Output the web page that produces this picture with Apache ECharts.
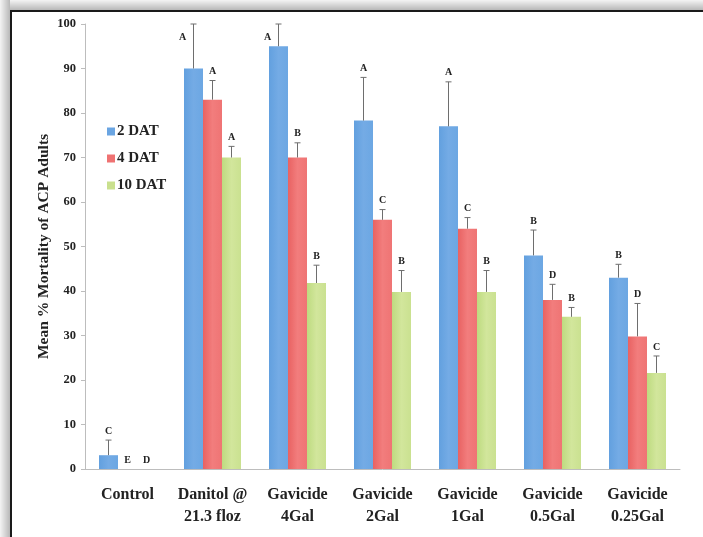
<!DOCTYPE html>
<html>
<head>
<meta charset="utf-8">
<script src="https://cdn.jsdelivr.net/npm/echarts@6/dist/echarts.min.js"></script>
<style>html,body{margin:0;padding:0;background:#fff;}#c{width:703px;height:537px;}</style>
</head>
<body>
<div id="c"></div>
<script>
var categories = ['Control', 'Danitol @\n21.3 floz', 'Gavicide\n4Gal', 'Gavicide\n2Gal', 'Gavicide\n1Gal', 'Gavicide\n0.5Gal', 'Gavicide\n0.25Gal'];
var seriesNames = ['2 DAT', '4 DAT', '10 DAT'];
var dat2 = [3.1, 90, 95, 78.3, 77, 48, 43];
var dat4 = [0, 83, 70, 56, 54, 38, 29.8];
var dat10 = [0, 70, 41.8, 39.8, 39.8, 34.2, 21.6];
var err2 = [6.5, 100, 100, 88, 87, 53.7, 46];
var err4 = [0, 87.3, 73.3, 58.3, 56.5, 41.5, 37.2];
var err10 = [0, 72.5, 45.8, 44.6, 44.6, 36.3, 25.4];
var letters2 = ['C', 'A', 'A', 'A', 'A', 'B', 'B'];
var letters4 = ['E', 'A', 'B', 'C', 'C', 'D', 'D'];
var letters10 = ['D', 'A', 'B', 'B', 'B', 'B', 'C'];
var yTicks = [0, 10, 20, 30, 40, 50, 60, 70, 80, 90, 100];

var colors = [
  new echarts.graphic.LinearGradient(0, 0, 1, 0, [{offset: 0, color: '#62a0df'}, {offset: 0.5, color: '#74abe5'}, {offset: 1, color: '#6ca7e3'}]),
  new echarts.graphic.LinearGradient(0, 0, 1, 0, [{offset: 0, color: '#e86262'}, {offset: 0.5, color: '#f27d7d'}, {offset: 1, color: '#ef7474'}]),
  new echarts.graphic.LinearGradient(0, 0, 1, 0, [{offset: 0, color: '#bedb80'}, {offset: 0.5, color: '#d2e69c'}, {offset: 1, color: '#cae190'}])
];
var legendColors = ['#6aa5e2', '#ef7272', '#c9e08e'];
var vals = [dat2, dat4, dat10];
var errs = [err2, err4, err10];
var lets = [letters2, letters4, letters10];
var BAR_W = 19;
var FONT = '"Liberation Serif", "DejaVu Serif", serif';

function errSeries(k) {
  var data = categories.map(function (c, i) { return [i, vals[k][i], errs[k][i], lets[k][i]]; });
  return {
    type: 'custom',
    name: 'err' + k,
    z: 5,
    silent: true,
    renderItem: function (params, api) {
      var i = api.value(0);
      var base = api.coord([i, api.value(1)]);
      var top = api.coord([i, api.value(2)]);
      var x = base[0] + (k - 1) * BAR_W;
      var children = [];
      if (api.value(2) > api.value(1)) {
        children.push({type: 'line', shape: {x1: x, y1: base[1], x2: x, y2: top[1]}, style: {stroke: '#6e6e6e', lineWidth: 1}});
        children.push({type: 'line', shape: {x1: x - 3, y1: top[1], x2: x + 3, y2: top[1]}, style: {stroke: '#6e6e6e', lineWidth: 1}});
      }
      var lx = x, ly = top[1] - 9;
      if (api.value(2) >= 99.5) { lx = x - 11; ly = api.coord([i, 97])[1]; }
      children.push({type: 'text', style: {text: data[i][3], x: lx, y: ly, fill: '#222', font: 'bold 10px ' + FONT, align: 'center', verticalAlign: 'middle'}});
      return {type: 'group', children: children};
    },
    data: data
  };
}

var series = [];
for (var k = 0; k < 3; k++) {
  series.push({
    type: 'bar',
    name: seriesNames[k],
    data: vals[k],
    barWidth: BAR_W,
    barGap: '0%',
    itemStyle: {color: colors[k]}
  });
}
for (var k2 = 0; k2 < 3; k2++) series.push(errSeries(k2));

var chart = echarts.init(document.getElementById('c'));
chart.setOption({
  animation: false,
  backgroundColor: '#fff',
  graphic: [
    {type: 'rect', shape: {x: 0, y: 0, width: 703, height: 10}, style: {fill: new echarts.graphic.LinearGradient(0, 0, 0, 1, [{offset: 0, color: '#f4f4f4'}, {offset: 1, color: '#b8b8b8'}])}, z: 100},
    {type: 'rect', shape: {x: 0, y: 0, width: 10, height: 537}, style: {fill: new echarts.graphic.LinearGradient(0, 0, 1, 0, [{offset: 0, color: '#f4f4f4'}, {offset: 1, color: '#b8b8b8'}])}, z: 100},
    {type: 'rect', shape: {x: 10, y: 10, width: 693, height: 2}, style: {fill: '#1a1a1a'}, z: 101},
    {type: 'rect', shape: {x: 10, y: 10, width: 2, height: 527}, style: {fill: '#1a1a1a'}, z: 101}
  ],
  legend: {
    data: seriesNames.map(function (n, i) { return {name: n, itemStyle: {color: legendColors[i]}}; }),
    orient: 'vertical',
    left: 102,
    top: 118,
    itemWidth: 8,
    itemHeight: 8,
    itemGap: 10,
    icon: 'rect',
    textStyle: {fontFamily: FONT, fontWeight: 'bold', fontSize: 15, color: '#222', lineHeight: 17, padding: [0, 0, 0, -3]}
  },
  grid: {left: 85, right: 23, top: 24, bottom: 68, containLabel: false},
  xAxis: {
    type: 'category',
    data: categories,
    axisLine: {lineStyle: {color: '#bdbdbd', width: 1}},
    axisTick: {show: false},
    axisLabel: {fontFamily: FONT, fontWeight: 'bold', fontSize: 16, color: '#222', margin: 15, lineHeight: 22, interval: 0}
  },
  yAxis: {
    type: 'value',
    min: 0,
    max: 100,
    interval: 10,
    name: 'Mean % Mortality of ACP Adults',
    nameLocation: 'middle',
    nameGap: 33,
    nameMoveOverlap: false,
    nameTextStyle: {fontFamily: FONT, fontWeight: 'bold', fontSize: 15.5, color: '#222'},
    axisLine: {show: true, lineStyle: {color: '#bdbdbd', width: 1}},
    axisTick: {show: true, length: 4, lineStyle: {color: '#bdbdbd'}},
    splitLine: {show: false},
    axisLabel: {fontFamily: FONT, fontWeight: 'bold', fontSize: 12.5, color: '#222', margin: 9,
      formatter: function (v) { return yTicks.indexOf(v) >= 0 ? String(v) : ''; }}
  },
  series: series
});
</script>
</body>
</html>
